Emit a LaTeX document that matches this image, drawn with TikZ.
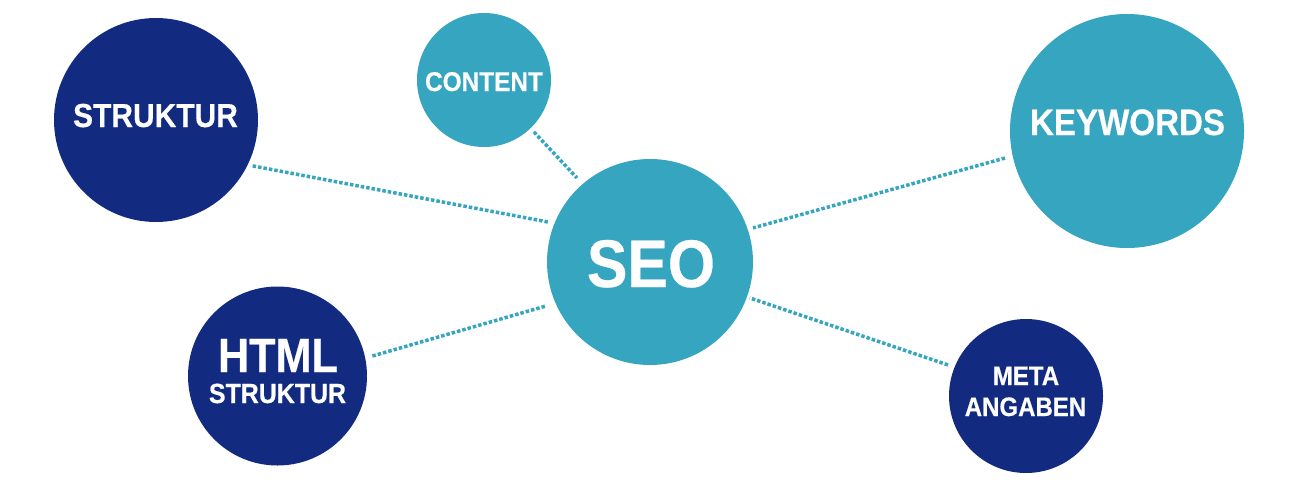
\documentclass[tikz,border=0pt]{standalone}
\usepackage{fontspec}
\newfontfamily\lab[FakeStretch=0.9,FakeBold=0.4]{Liberation Sans}
\usetikzlibrary{calc}
\definecolor{navy}{RGB}{18,43,128}
\definecolor{teal}{RGB}{54,165,192}
\tikzset{
  bub/.style={circle, inner sep=0pt, outer sep=0pt, draw=none},
  navybub/.style={bub, fill=navy},
  tealbub/.style={bub, fill=teal},
  lbl/.style={anchor=base, inner sep=0pt, text=white},
  conn/.style={draw=teal, line width=3.5pt, dash pattern=on 3.5pt off 2pt}
}
\newcommand{\fs}[1]{\lab\bfseries\fontsize{#1}{#1}\selectfont}
\begin{document}
\begin{tikzpicture}[x=1pt,y=-1pt]
\useasboundingbox (0,0) rectangle (1300,498);
% circles
\node[tealbub, minimum size=206pt] (seo) at (650,262) {};
\node[navybub, minimum size=204pt] (struk) at (156,120) {};
\node[tealbub, minimum size=134pt] (content) at (484,80) {};
\node[tealbub, minimum size=234pt] (keywords) at (1127,131) {};
\node[navybub, minimum size=179pt] (html) at (277.5,376) {};
\node[navybub, minimum size=154pt] (meta) at (1026,396) {};
% labels
\node[lbl, font=\fs{67.4}] (seotxt) at (651,287) {SEO};
\node[lbl, font=\fs{36.8}] (kwtxt) at (1127.5,135) {KEYWORDS};
\node[lbl, font=\fs{33.3}] (strtxt) at (155.5,127) {STRUKTUR};
\node[lbl, font=\fs{27.1}] (contxt) at (484,91) {CONTENT};
\node[lbl, font=\fs{48}] (htmltxt) at (278,372) {HTML};
\node[lbl, font=\fs{27.7}] (htmlstr) at (277.5,403) {STRUKTUR};
\node[lbl, font=\fs{26.7}] (metatxt) at (1026,385) {META};
\node[lbl, font=\fs{26.7}] (angtxt) at (1025.5,416) {ANGABEN};
% connectors
\draw[conn] ($(struk)+(-25.4:107pt)$) -- ($(seo)+(158.6:109.6pt)$);
\draw[conn] ($(content)+(-46.1:72pt)$) -- ($(seo)+(131:111.3pt)$);
\draw[conn] ($(keywords)+(192.5:125pt)$) -- ($(seo)+(18.3:108.5pt)$);
\draw[conn] ($(html)+(11.9:97pt)$) -- ($(seo)+(202.9:113pt)$);
\draw[conn] ($(meta)+(158.3:84pt)$) -- ($(seo)+(-19.8:106pt)$);
\end{tikzpicture}
\end{document}
